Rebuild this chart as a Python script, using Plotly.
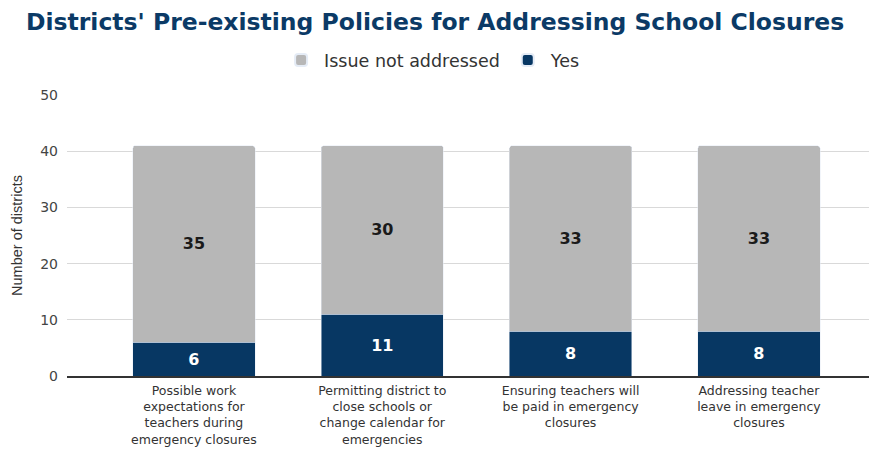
import plotly.graph_objects as go

categories = [
    "Possible work<br>expectations for<br>teachers during<br>emergency closures",
    "Permitting district to<br>close schools or<br>change calendar for<br>emergencies",
    "Ensuring teachers will<br>be paid in emergency<br>closures",
    "Addressing teacher<br>leave in emergency<br>closures",
]
yes_values = [6, 11, 8, 8]
not_addressed_values = [35, 30, 33, 33]
y_ticks = [0, 10, 20, 30, 40, 50]

fig = go.Figure()
fig.add_trace(go.Bar(
    x=list(range(len(categories))), y=yes_values, name="Yes",
    marker=dict(color="#073763"),
    text=yes_values, textposition="inside", insidetextanchor="middle",
    textfont=dict(color="white", size=16, family="DejaVu Sans", weight="bold"),
    width=0.65,
))
fig.add_trace(go.Bar(
    x=list(range(len(categories))), y=not_addressed_values, name="Issue not addressed",
    marker=dict(color="#b7b7b7"),
    text=not_addressed_values, textposition="inside", insidetextanchor="middle",
    textfont=dict(color="#1a1a1a", size=16, family="DejaVu Sans", weight="bold"),
    width=0.65,
))

fig.update_layout(
    barmode="stack",
    barcornerradius=3,
    width=877, height=449,
    margin=dict(l=59, r=8, t=87, b=81),
    paper_bgcolor="white", plot_bgcolor="white",
    title=dict(
        text="<b>Districts' Pre-existing Policies for Addressing School Closures</b>",
        x=0.487, xanchor="center", y=0.969, yanchor="middle",
        font=dict(family="DejaVu Sans", size=23.5, color="#0b3a66"),
    ),
    legend=dict(
        orientation="h", traceorder="reversed",
        xref="container", x=0.483, xanchor="center",
        yref="container", y=0.884, yanchor="middle",
        font=dict(family="DejaVu Sans", size=17.5, color="#333333"),
        itemsizing="constant", itemwidth=36,
    ),
    font=dict(family="Liberation Sans, Arial", color="#444444"),
    uniformtext=dict(mode="show", minsize=10),
)
fig.update_xaxes(
    range=[-0.674, 3.627], automargin=False,
    tickmode="array", tickvals=list(range(len(categories))), ticktext=categories,
    tickfont=dict(size=12.5, color="#333333", family="DejaVu Sans"),
    showline=True, linecolor="#333333", linewidth=1.5,
    showgrid=False, ticks="", ticklabelstandoff=2,
)
fig.update_yaxes(
    range=[0, 50], tickvals=y_ticks, automargin=False,
    tickfont=dict(size=14, color="#444444", family="DejaVu Sans"),
    gridcolor="#d9d9d9", gridwidth=1, zeroline=False,
    title=dict(text="Number of districts", font=dict(size=14.5, color="#333333"), standoff=14),
    ticklabelstandoff=8,
)
fig.write_html("out.html")
